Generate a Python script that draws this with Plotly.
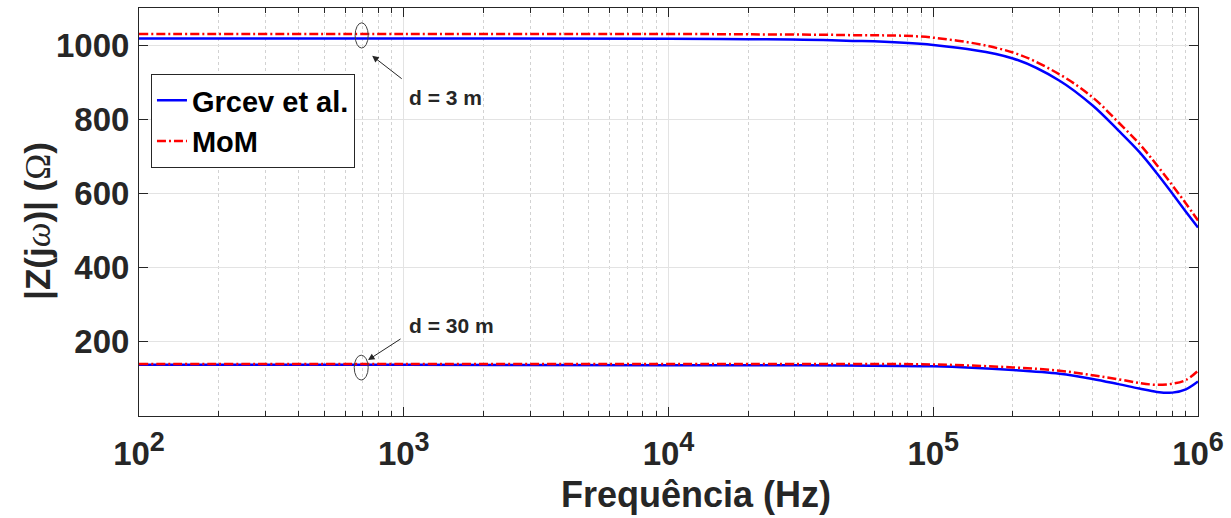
import math
import plotly.graph_objects as go

# ---- data ----
freq = [1e2, 1e3, 1e4, 2e4, 4.7e4, 1e5, 2e5, 3e5, 4e5, 5e5, 6e5, 7e5, 8e5, 9e5, 1e6]

grcev_3m = [1018, 1018, 1017, 1016, 1012, 1000, 964, 904, 837, 770, 712, 654, 600, 551, 508]
mom_3m   = [1030, 1030, 1030, 1029, 1027, 1020, 980, 921, 859, 792, 734, 676, 622, 573, 527]

grcev_30m = [138, 138, 137, 137, 136, 134, 124, 114, 100, 86, 74, 65, 63, 72, 93]
mom_30m   = [140, 140, 140, 140, 140, 139, 131, 122, 110, 99, 89, 84, 87, 97, 122]

x_tickvals = [1e2, 1e3, 1e4, 1e5, 1e6]
x_ticktext = ['10<sup><span style="font-size:27px">%d</span></sup>' % e for e in range(2, 7)]
x_minor_vals = [m * 10 ** e for e in range(2, 6) for m in range(2, 10)]
y_tickvals = [200, 400, 600, 800, 1000]

DARK = "#262626"
FONT = "Liberation Sans"

fig = go.Figure()

blue = dict(color="#0000ff", width=2.5)
red = dict(color="#ff0000", width=2.5, dash="9px,3px,2px,3px")

fig.add_trace(go.Scatter(x=freq, y=grcev_3m, mode="lines", line=blue, line_shape="spline",
                         name="Grcev et al."))
fig.add_trace(go.Scatter(x=freq, y=mom_3m, mode="lines", line=red, line_shape="spline",
                         name="MoM"))
fig.add_trace(go.Scatter(x=freq, y=grcev_30m, mode="lines", line=blue, line_shape="spline",
                         name="Grcev et al.", showlegend=False))
fig.add_trace(go.Scatter(x=freq, y=mom_30m, mode="lines", line=red, line_shape="spline",
                         name="MoM", showlegend=False))

# ellipses marking the groups (shape coords on log axis are data values)
fig.add_shape(type="circle", xref="x", yref="y", x0=655, x1=734, y0=992, y1=1060,
              line=dict(color="#404040", width=1))
fig.add_shape(type="circle", xref="x", yref="y", x0=650, x1=734, y0=97, y1=164,
              line=dict(color="#404040", width=1))

# arrows
fig.add_annotation(x=math.log10(760), y=971, xref="x", yref="y", ax=31, ay=24,
                   showarrow=True, arrowhead=2, arrowsize=1.3, arrowwidth=1,
                   arrowcolor=DARK, text="")
fig.add_annotation(x=math.log10(733), y=151, xref="x", yref="y", ax=34, ay=-22,
                   showarrow=True, arrowhead=2, arrowsize=1.3, arrowwidth=1,
                   arrowcolor=DARK, text="")
# labels
fig.add_annotation(x=math.log10(1030), y=858, xref="x", yref="y", text="d = 3 m",
                   showarrow=False, xanchor="left", yanchor="middle",
                   font=dict(family=FONT, size=21, color=DARK, weight="bold"))
fig.add_annotation(x=math.log10(1030), y=245, xref="x", yref="y", text="d = 30 m",
                   showarrow=False, xanchor="left", yanchor="middle",
                   font=dict(family=FONT, size=21, color=DARK, weight="bold"))

# axis titles as annotations for exact placement
fig.add_annotation(x=0.526, y=-0.193, xref="paper", yref="paper", text="Frequência (Hz)",
                   showarrow=False, xanchor="center", yanchor="middle",
                   font=dict(family=FONT, size=36, color=DARK, weight="bold"))
fig.add_annotation(x=-0.096, y=0.479, xref="paper", yref="paper", textangle=-90,
                   text='|Z(j<span style="font-family:Liberation Serif;font-weight:normal"><i>ω</i></span>)| '
                        '(<span style="font-family:Liberation Serif;font-weight:normal">Ω</span>)',
                   showarrow=False, xanchor="center", yanchor="middle",
                   font=dict(family=FONT, size=35, color=DARK, weight="bold"))

fig.update_layout(
    width=1231, height=518,
    margin=dict(l=139, r=29, t=7, b=102),
    paper_bgcolor="white", plot_bgcolor="white",
    font=dict(family=FONT, color=DARK),
    showlegend=True,
    legend=dict(x=0.0113, y=0.8386, xanchor="left", yanchor="top",
                bgcolor="white", bordercolor=DARK, borderwidth=1,
                font=dict(family=FONT, size=29, color="black", weight="bold"),
                tracegroupgap=0, itemwidth=30),
)

fig.update_xaxes(
    type="log", range=[2, 6],
    tickvals=x_tickvals, ticktext=x_ticktext,
    tickfont=dict(family=FONT, size=33, color=DARK, weight="bold"),
    showline=True, linecolor=DARK, linewidth=1, mirror="allticks",
    ticks="inside", ticklen=9, tickcolor=DARK, tickwidth=1,
    showgrid=True, gridcolor="#e3e3e3", gridwidth=1,
    zeroline=False,
    minor=dict(tickmode="array", tickvals=x_minor_vals,
               ticks="inside", ticklen=5, tickcolor=DARK, showgrid=True,
               gridcolor="#d2d2d2", griddash="dot", gridwidth=1),
    ticklabelstandoff=8,
)
fig.update_yaxes(
    range=[0, 1100], tickvals=y_tickvals,
    tickfont=dict(family=FONT, size=33, color=DARK, weight="bold"),
    showline=True, linecolor=DARK, linewidth=1, mirror="allticks",
    ticks="inside", ticklen=9, tickcolor=DARK, tickwidth=1,
    showgrid=True, gridcolor="#e3e3e3", gridwidth=1,
    zeroline=False,
    ticklabelstandoff=2,
)

fig.write_html("out.html")
